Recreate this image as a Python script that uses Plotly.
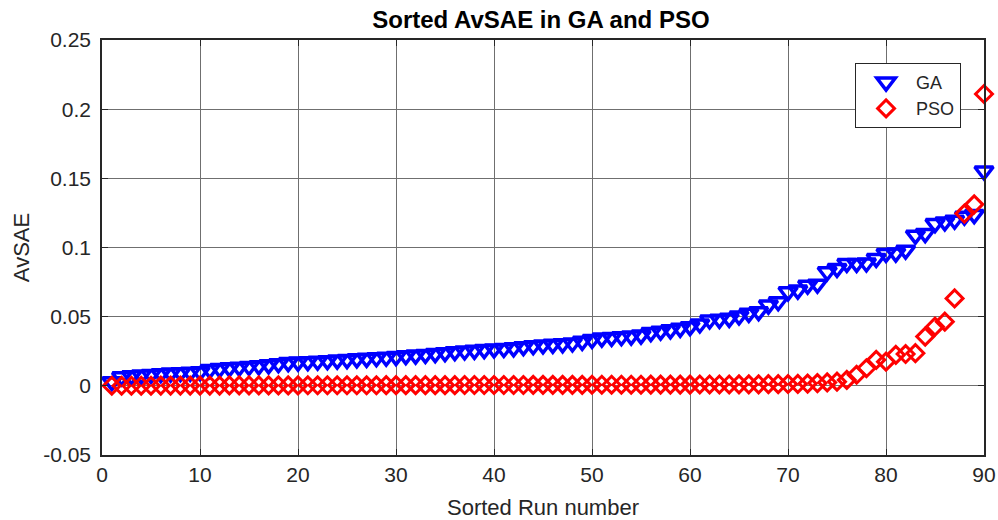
import plotly.graph_objects as go

# Sorted run index (1..90)
runs = list(range(1, 91))

# Sorted AvSAE per run, GA
ga_avsae = [
    0.0030, 0.0065, 0.0072, 0.0078, 0.0082, 0.0088, 0.0092, 0.0095, 0.0098, 0.0102,
    0.0118, 0.0125, 0.0130, 0.0135, 0.0140, 0.0145, 0.0152, 0.0160, 0.0168, 0.0172,
    0.0175, 0.0178, 0.0182, 0.0186, 0.0190, 0.0195, 0.0199, 0.0203, 0.0207, 0.0212,
    0.0218, 0.0222, 0.0227, 0.0233, 0.0240, 0.0247, 0.0252, 0.0257, 0.0262, 0.0267,
    0.0270, 0.0275, 0.0283, 0.0290, 0.0296, 0.0300, 0.0304, 0.0310, 0.0322, 0.0335,
    0.0345, 0.0350, 0.0355, 0.0360, 0.0367, 0.0385, 0.0395, 0.0405, 0.0416, 0.0428,
    0.0447, 0.0476, 0.0481, 0.0488, 0.0505, 0.0524, 0.0536, 0.0584, 0.0608, 0.0680,
    0.0692, 0.0728, 0.0735, 0.0825, 0.0849, 0.0885, 0.0885, 0.0888, 0.0921, 0.0957,
    0.0960, 0.0981, 0.1089, 0.1101, 0.1173, 0.1185, 0.1197, 0.1226, 0.1238, 0.1553,
]

# Sorted AvSAE per run, PSO
pso_avsae = [
    0.0001, 0.0001, 0.0001, 0.0001, 0.0001, 0.0002, 0.0002, 0.0002, 0.0002, 0.0002,
    0.0002, 0.0002, 0.0003, 0.0003, 0.0003, 0.0003, 0.0003, 0.0003, 0.0003, 0.0003,
    0.0004, 0.0004, 0.0004, 0.0004, 0.0004, 0.0004, 0.0004, 0.0004, 0.0005, 0.0005,
    0.0005, 0.0005, 0.0005, 0.0005, 0.0005, 0.0005, 0.0006, 0.0006, 0.0006, 0.0006,
    0.0006, 0.0006, 0.0006, 0.0007, 0.0007, 0.0007, 0.0007, 0.0007, 0.0007, 0.0008,
    0.0008, 0.0008, 0.0008, 0.0008, 0.0008, 0.0009, 0.0009, 0.0009, 0.0009, 0.0009,
    0.0010, 0.0010, 0.0010, 0.0010, 0.0011, 0.0011, 0.0011, 0.0012, 0.0012, 0.0013,
    0.0014, 0.0016, 0.0020, 0.0025, 0.0030, 0.0043, 0.0080, 0.0127, 0.0188, 0.0175,
    0.0224, 0.0230, 0.0236, 0.0356, 0.0428, 0.0464, 0.0632, 0.1245, 0.1312, 0.2110,
]

x_ticks = [0, 10, 20, 30, 40, 50, 60, 70, 80, 90]
y_ticks = [-0.05, 0, 0.05, 0.1, 0.15, 0.2, 0.25]
y_tick_text = ["-0.05", "0", "0.05", "0.1", "0.15", "0.2", "0.25"]

FONT = "Liberation Sans, Arial, Helvetica, sans-serif"
GRID = "#6f6f6f"
FRAME = "#262626"

fig = go.Figure()

fig.add_trace(go.Scatter(
    x=runs, y=ga_avsae, name="GA", mode="markers", cliponaxis=False,
    marker=dict(symbol="triangle-down-open", size=16, color="#0000ff",
                line=dict(width=3.5, color="#0000ff")),
))
fig.add_trace(go.Scatter(
    x=runs, y=pso_avsae, name="PSO", mode="markers", cliponaxis=False,
    marker=dict(symbol="diamond-open", size=13, color="#ff0000",
                line=dict(width=3, color="#ff0000")),
))

fig.update_layout(
    width=998, height=520,
    margin=dict(l=102, r=14, t=40, b=65, autoexpand=False),
    paper_bgcolor="white", plot_bgcolor="white",
    font=dict(family=FONT, size=22, color="#262626"),
    title=dict(text="<b>Sorted AvSAE in GA and PSO</b>", x=0.542, xanchor="center",
               y=0.9615, yanchor="middle", font=dict(size=24, color="#000000")),
    showlegend=True,
    legend=dict(x=0.974, xanchor="right", y=0.945, yanchor="top",
                bgcolor="white", bordercolor=FRAME, borderwidth=1,
                font=dict(size=18, color="#262626"),
                itemwidth=50, tracegroupgap=0),
)

fig.update_xaxes(
    range=[0, 90], tickvals=x_ticks, ticktext=[str(v) for v in x_ticks],
    showgrid=True, gridcolor=GRID, gridwidth=1.2,
    showline=True, linecolor=FRAME, linewidth=1.5, mirror="ticks",
    ticks="inside", ticklen=6, tickcolor=FRAME, zeroline=False,
    tickfont=dict(size=21), automargin=False,
    title=dict(text="Sorted Run number", font=dict(size=22), standoff=21),
)
fig.update_yaxes(
    range=[-0.05, 0.25], tickvals=y_ticks, ticktext=y_tick_text,
    showgrid=True, gridcolor=GRID, gridwidth=1.2,
    showline=True, linecolor=FRAME, linewidth=1.5, mirror="ticks",
    ticks="inside", ticklen=6, tickcolor=FRAME, zeroline=False,
    tickfont=dict(size=21), ticklabelstandoff=5, automargin=False,
    title=dict(text="AvSAE", font=dict(size=22), standoff=7),
)

fig.write_html("out.html")
